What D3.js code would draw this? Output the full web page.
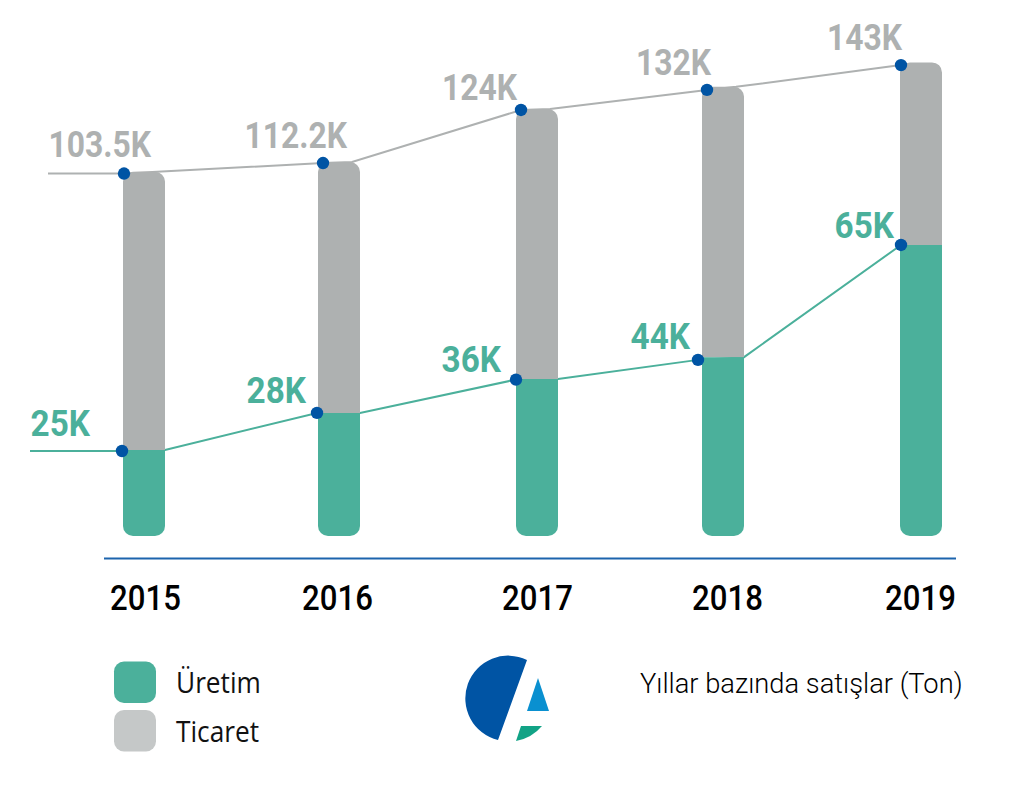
<!DOCTYPE html>
<html><head><meta charset="utf-8">
<script src="https://cdn.jsdelivr.net/npm/d3@7"></script>
<style>html,body{margin:0;background:#fff}svg{display:block}</style>
</head><body><svg id="c" width="1024" height="789"></svg>
<script>
const years = ["2015","2016","2017","2018","2019"];
// printed values
const uretimValues = [25,28,36,44,65];
const ticaretValues = [103.5,112.2,124,132,143];
// heights as drawn in the picture (the picture is not to scale with its labels)
const uretimBars = [25.3,36.2,46.2,52.6,85.6];
const ticaretBars = [107.1,110,125.6,132.1,139.3];
const uretimDots = [25,36.2,46,51.8,85.6];
const ticaretDots = [106.6,109.7,125.3,131.2,138.5];
const legendItems = ["Üretim","Ticaret"];
const caption = "Yıllar bazında satışlar (Ton)";

const GREEN="#4bb09b", GRAY="#aeb1b1", LIGHT="#c5c8c8", BLUE="#0054a4";
const svg=d3.select("#c");
const y=d3.scaleLinear().domain([0,140]).range([536,60]);
const x=d3.scaleOrdinal().domain(years).range([123,318,516,702,900]);
const barW=42, R=10;
const topDx=[1,5,5,5,1], lowDx=[-1,-1,0,-4,1];
const fmt=v=>v+"K";
// narrow Roboto/Open Sans horizontally towards the reference's DIN-like face
const squeeze=f=>sel=>sel.attr("textLength",function(){return this.getComputedTextLength()*f;})
  .attr("lengthAdjust","spacingAndGlyphs");

function bar(l,t,b,rt,rb){
  const p=d3.path(), r=l+barW;
  p.moveTo(l,t+rt);
  if(rt)p.arcTo(l,t,l+rt,t,rt);
  p.lineTo(r-rt,t);
  if(rt)p.arcTo(r,t,r,t+rt,rt);
  p.lineTo(r,b-rb);
  if(rb)p.arcTo(r,b,r-rb,b,rb);
  p.lineTo(l+rb,b);
  if(rb)p.arcTo(l,b,l,b-rb,rb);
  p.closePath();
  return p.toString();
}

// connector lines (behind bars): each leg leaves the bar's top right and ends at the next dot
const lineGen=d3.line();
function pts(vals,dots,dx,inset,startX){
  const out=[[startX,y(dots[0])]];
  years.forEach((yr,i)=>{
    out.push([x(yr)+dx[i],y(dots[i])]);
    if(i<years.length-1) out.push([x(yr)+barW-inset,y(vals[i])]);
  });
  return out;
}
svg.append("path").attr("d",lineGen(pts(ticaretBars,ticaretDots,topDx,8,48)))
  .attr("fill","none").attr("stroke",GRAY).attr("stroke-width",2);
svg.append("path").attr("d",lineGen(pts(uretimBars,uretimDots,lowDx,0,30)))
  .attr("fill","none").attr("stroke",GREEN).attr("stroke-width",2);

// bars
svg.selectAll(".t").data(years).join("path").attr("class","t").attr("fill",GRAY)
  .attr("d",(d,i)=>bar(x(d),y(ticaretBars[i]),y(uretimBars[i]),R,0));
svg.selectAll(".u").data(years).join("path").attr("class","u").attr("fill",GREEN)
  .attr("d",(d,i)=>bar(x(d),y(uretimBars[i]),y(0),0,R));

// dots
svg.selectAll(".dt").data(years).join("circle").attr("fill",BLUE).attr("r",6.2)
  .attr("cx",(d,i)=>x(d)+topDx[i]).attr("cy",(d,i)=>y(ticaretDots[i]));
svg.selectAll(".du").data(years).join("circle").attr("fill",BLUE).attr("r",6.2)
  .attr("cx",(d,i)=>x(d)+lowDx[i]).attr("cy",(d,i)=>y(uretimDots[i]));

// value labels
const FONT="Roboto, sans-serif";
function labels(vals,dots,dx,offX,offY,color,f){
  svg.append("g").selectAll("text").data(vals).join("text")
    .attr("text-anchor","end").attr("font-family",FONT).attr("font-weight",700)
    .attr("font-size",36).attr("fill",color)
    .attr("x",(d,i)=>x(years[i])+dx[i]+offX[i]).attr("y",(d,i)=>y(dots[i])+offY[i])
    .text(fmt).call(squeeze(f));
}
labels(ticaretValues,ticaretDots,topDx,[27,24,-4,4,1],[-17,-15,-10,-15,-15],GRAY,0.885);
labels(uretimValues,uretimDots,lowDx,[-32,-11,-15,-8,-7],[-15,-10,-8,-11,-7],GREEN,0.925);

// baseline and year axis
svg.append("line").attr("x1",104).attr("x2",956).attr("y1",558.5).attr("y2",558.5)
  .attr("stroke","#1c64ad").attr("stroke-width",2);
const xc=d3.scaleOrdinal().domain(years).range(years.map((d,i)=>x(d)+barW/2+[1,-2,0,4,-1][i]));
const ax=svg.append("g").attr("transform","translate(0,610)")
  .call(d3.axisBottom(xc).tickSize(0).tickPadding(0));
ax.select(".domain").remove();
ax.selectAll("text").attr("font-family",FONT).attr("font-weight",500).attr("font-size",35)
  .attr("fill","#000").attr("dy",0).call(squeeze(0.89));

// legend
const lg=svg.append("g").selectAll("g").data(legendItems).join("g")
  .attr("transform",(d,i)=>`translate(114,${661.5+i*48.5})`);
lg.append("rect").attr("width",42).attr("height",41.5).attr("rx",10)
  .attr("fill",(d,i)=>i?LIGHT:GREEN);
lg.append("text").attr("x",62).attr("y",31.5).attr("font-family","'Open Sans', sans-serif")
  .attr("font-size",30).attr("fill","#111").text(d=>d).call(squeeze(0.875));

// caption
svg.append("text").attr("x",640).attr("y",693).attr("font-family",FONT).attr("font-weight",300)
  .attr("font-size",28).attr("fill","#000").text(caption).call(squeeze(0.975));

// logo
const logo=svg.append("g");
logo.append("path").attr("fill",BLUE).attr("d","M527,660A42.8,42.8 0 1 0 498,740Z");
logo.append("path").attr("fill","#0a90d0").attr("d","M538,678L549,711L527,711Z");
logo.append("path").attr("fill","#12a386").attr("d","M521,726L542,726Q532,738 516,741Z");
</script></body></html>
